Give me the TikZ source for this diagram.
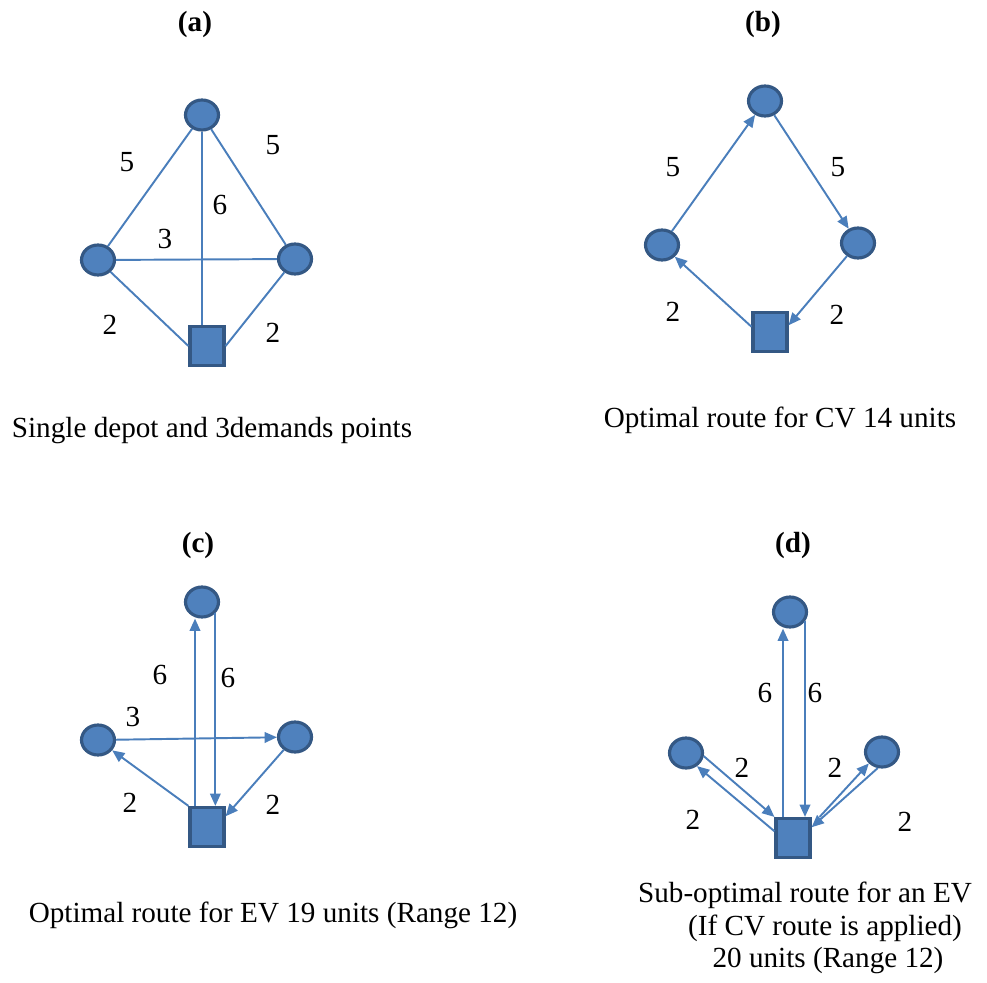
\documentclass[tikz,border=0pt]{standalone}
\usepackage{fontspec}
\setmainfont{Liberation Serif}
\usepackage{tikz}
\usetikzlibrary{arrows.meta,shapes.geometric,calc}
\definecolor{colNODE}{RGB}{79,129,189}
\definecolor{colRIM}{RGB}{52,88,132}
\definecolor{colEDGE}{RGB}{74,126,187}

\begin{document}
\begin{tikzpicture}[x=0.02cm, y=-0.02cm,
    every node/.style={font=\fontsize{16.6}{20}\selectfont},
    custnode/.style={ellipse, fill=colNODE, draw=colRIM, line width=1.8pt,
      minimum width=0.66cm, minimum height=0.6cm, inner sep=0pt},
    depot/.style={rectangle, fill=colNODE, draw=colRIM, line width=1.8pt,
      minimum width=0.68cm, minimum height=0.78cm, inner sep=0pt},
    edge/.style={colEDGE, line width=1.1pt},
    route/.style={edge, -{Triangle[length=7pt,width=6pt]}},
    lbl/.style={inner sep=0pt},
    title/.style={anchor=base, font=\fontsize{16.6}{20}\selectfont\bfseries},
    caption/.style={anchor=base}]
  \useasboundingbox (0,0) rectangle (987,983);
  % --- (a): depot and demand points ---
  \node[title] (tia) at (195,32) {(a)};
  \node[custnode] (ta) at (202,115) {};
  \node[custnode] (la) at (98,260) {};
  \node[custnode] (ra) at (295,259) {};
  \node[depot] (da) at (207,346) {};
  \draw[edge] (la) -- (ta);
  \draw[edge] (ta) -- (ra);
  \draw[edge] (la) -- (ra);
  \draw[edge] (ta) -- (ta |- da.north);
  \draw[edge] (la) -- (da.west);
  \draw[edge] (ra) -- (da.east);
  \node[lbl] (wa1) at (127,162) {5};
  \node[lbl] (wa2) at (273,145) {5};
  \node[lbl] (wa3) at (220,205) {6};
  \node[lbl] (wa4) at (165,239) {3};
  \node[lbl] (wa5) at (110,325) {2};
  \node[lbl] (wa6) at (273,333) {2};
  \node[caption] (capa) at (212,437) {Single depot and 3demands points};
  % --- (b): CV route ---
  \node[title] (tib) at (763,32) {(b)};
  \node[custnode] (tb) at (765,101) {};
  \node[custnode] (lb) at (662,245) {};
  \node[custnode] (rb) at (858,243) {};
  \node[depot] (db) at (770,332) {};
  \draw[route] (lb) -- (tb);
  \draw[route] (tb) -- (rb);
  \draw[route] (rb) -- (db.20);
  \draw[route] (db.164) -- (lb);
  \node[lbl] (wb1) at (673,167) {5};
  \node[lbl] (wb2) at (838,167) {5};
  \node[lbl] (wb3) at (673,312) {2};
  \node[lbl] (wb4) at (837,315) {2};
  \node[caption] (capb) at (780,427) {Optimal route for CV 14 units};
  % --- (c): EV route ---
  \node[title] (tic) at (198,552) {(c)};
  \node[custnode] (tc) at (202,602) {};
  \node[custnode] (lc) at (98,740) {};
  \node[custnode] (rc) at (295,737) {};
  \node[depot] (dc) at (207,827) {};
  \draw[route] ([xshift=-0.24cm]dc.north) -- ([xshift=-0.24cm]dc.north |- tc.south);
  \draw[route] (tc.-40) -- (tc.-40 |- dc.north);
  \draw[route] (lc) -- (rc);
  \draw[route] (dc.north west) -- (lc);
  \draw[route] (rc) -- (dc.30);
  \node[lbl] (wc1) at (160,675) {6};
  \node[lbl] (wc2) at (228,678) {6};
  \node[lbl] (wc3) at (133,717) {3};
  \node[lbl] (wc4) at (130,803) {2};
  \node[lbl] (wc5) at (273,805) {2};
  \node[caption] (capc) at (273,922) {Optimal route for EV 19 units (Range 12)};
  % --- (d): CV route driven by an EV ---
  \node[title] (tid) at (793,552) {(d)};
  \node[custnode] (td) at (790,612) {};
  \node[custnode] (ld) at (686,753) {};
  \node[custnode] (rd) at (882,752) {};
  \node[depot] (dd) at (793,838) {};
  \draw[route] ([xshift=-0.2cm]dd.north) -- ([xshift=-0.2cm]dd.north |- td.south);
  \draw[route] ([xshift=0.24cm]dd.north |- td.-30) -- ([xshift=0.24cm]dd.north);
  \draw[route] (ld.-10) -- (dd.north west);
  \draw[route] (dd.160) -- (ld.-50);
  \draw[route] ([xshift=0.16cm]dd.north east) -- (rd.221);
  \draw[route] (rd.255) -- (dd.30);
  \node[lbl] (wd1) at (765,693) {6};
  \node[lbl] (wd2) at (815,693) {6};
  \node[lbl] (wd3) at (742,768) {2};
  \node[lbl] (wd4) at (835,768) {2};
  \node[lbl] (wd5) at (693,820) {2};
  \node[lbl] (wd6) at (905,822) {2};
  \node[caption] (capd1) at (805,902) {Sub-optimal route for an EV};
  \node[caption] (capd2) at (825,935) {(If CV route is applied)};
  \node[caption] (capd3) at (828,967) {20 units (Range 12)};
\end{tikzpicture}
\end{document}
